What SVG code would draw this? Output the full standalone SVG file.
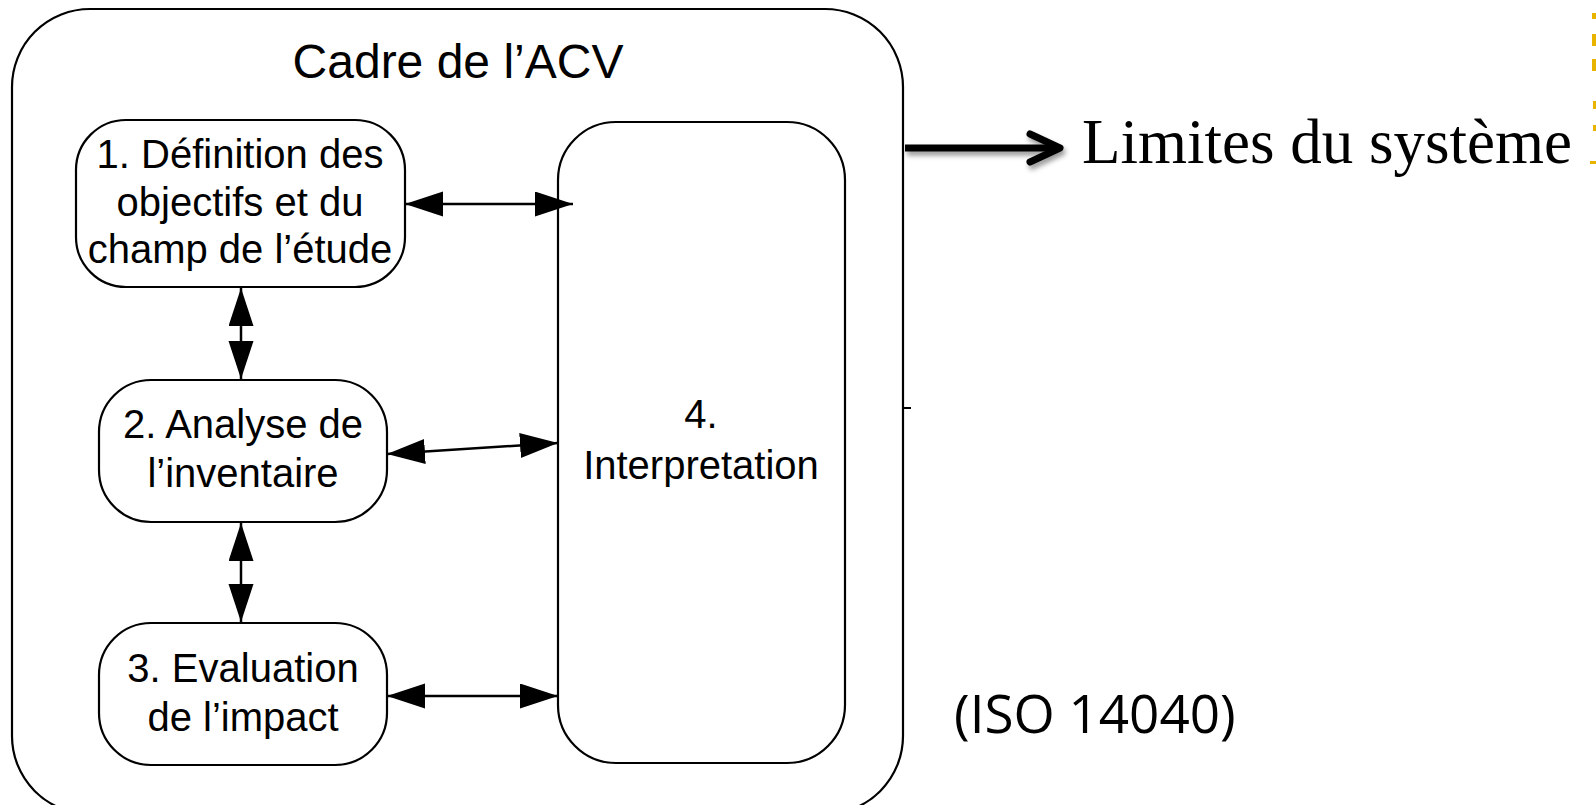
<svg xmlns="http://www.w3.org/2000/svg" width="1596" height="805" viewBox="0 0 1596 805">
  <style>
    .box { fill: #ffffff; stroke: #000000; stroke-width: 2.2; }
    .lbl { font-family: "Liberation Sans", Arial, sans-serif; font-size: 40px; fill: #000000; text-anchor: middle; }
    .title { font-family: "Liberation Sans", Arial, sans-serif; font-size: 48px; fill: #000000; text-anchor: middle; }
    .conn { stroke: #000000; stroke-width: 2.5; fill: none; }
    .serif { font-family: "Liberation Serif", "Times New Roman", serif; font-size: 63px; fill: #000000; }
    .iso { font-family: "Open Sans", sans-serif; font-size: 53px; fill: #000000; }
  </style>
  <defs>
    <marker id="head" markerUnits="userSpaceOnUse" markerWidth="40" markerHeight="27" refX="38" refY="12.5" orient="auto-start-reverse">
      <path d="M0,0 L38,12.5 L0,25 Z" fill="#000000"/>
    </marker>
    <filter id="shadow" x="-10%" y="-50%" width="130%" height="250%">
      <feDropShadow dx="2" dy="4" stdDeviation="2.5" flood-color="#000000" flood-opacity="0.4"/>
    </filter>
  </defs>

  <rect width="1596" height="805" fill="#ffffff"/>

  <g id="frame">
    <rect class="box" x="12" y="9" width="891" height="805" rx="78" ry="78"/>
    <text class="title" x="458" y="78">Cadre de l’ACV</text>
    <line x1="903" y1="408" x2="911" y2="408" stroke="#000" stroke-width="2"/>
  </g>

  <g id="node1">
    <rect class="box" x="76" y="120" width="329" height="167" rx="50" ry="50"/>
    <text class="lbl" x="240" y="168">1. Définition des</text>
    <text class="lbl" x="240" y="216">objectifs et du</text>
    <text class="lbl" x="240" y="263">champ de l’étude</text>
  </g>

  <g id="node2">
    <rect class="box" x="99" y="380" width="288" height="142" rx="52" ry="52"/>
    <text class="lbl" x="243" y="438">2. Analyse de</text>
    <text class="lbl" x="243" y="487">l’inventaire</text>
  </g>

  <g id="node3">
    <rect class="box" x="99" y="623" width="288" height="142" rx="52" ry="52"/>
    <text class="lbl" x="243" y="682">3. Evaluation</text>
    <text class="lbl" x="243" y="731">de l’impact</text>
  </g>

  <g id="node4">
    <rect class="box" x="558" y="122" width="287" height="641" rx="58" ry="58"/>
    <text class="lbl" x="701" y="428">4.</text>
    <text class="lbl" x="701" y="479">Interpretation</text>
  </g>

  <g id="connectors">
    <line class="conn" x1="405" y1="204" x2="573" y2="204" marker-start="url(#head)" marker-end="url(#head)"/>
    <line class="conn" x1="387" y1="454" x2="558" y2="443" marker-start="url(#head)" marker-end="url(#head)"/>
    <line class="conn" x1="387" y1="696" x2="558" y2="696" marker-start="url(#head)" marker-end="url(#head)"/>
    <line class="conn" x1="241" y1="288" x2="241" y2="379" marker-start="url(#head)" marker-end="url(#head)"/>
    <line class="conn" x1="241" y1="523" x2="241" y2="622" marker-start="url(#head)" marker-end="url(#head)"/>
  </g>

  <g id="limites">
    <g filter="url(#shadow)">
      <line x1="905" y1="148" x2="1056" y2="148" stroke="#000" stroke-width="7"/>
      <polyline points="1030,134 1060,148 1030,162" fill="none" stroke="#000" stroke-width="7" stroke-linecap="round" stroke-linejoin="round"/>
    </g>
    <text class="serif" x="1082" y="163">Limites du système</text>
  </g>

  <g id="iso">
    <text class="iso" x="954" y="733">(ISO 14040)</text>
  </g>

  <g id="edge-marks" fill="#E8B400">
    <rect x="1592" y="13" width="4" height="6"/>
    <rect x="1592" y="34" width="4" height="12"/>
    <rect x="1592" y="59" width="4" height="12"/>
    <rect x="1593" y="101" width="3" height="8"/>
    <rect x="1593" y="125" width="3" height="6"/>
    <rect x="1590" y="161" width="6" height="3"/>
  </g>
</svg>
